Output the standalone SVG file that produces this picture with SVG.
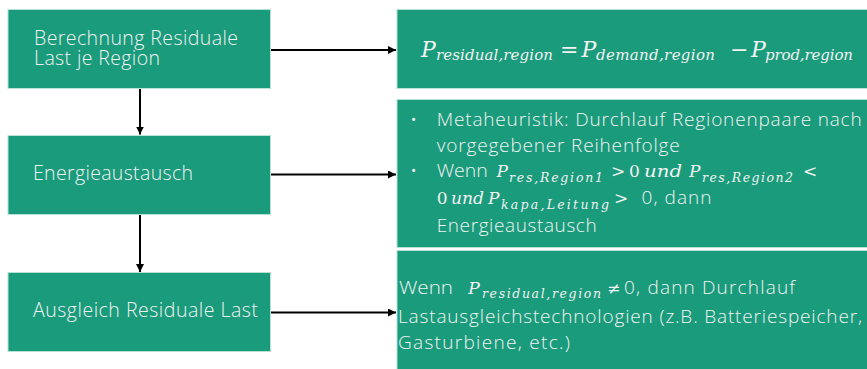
<svg xmlns="http://www.w3.org/2000/svg" width="867" height="369" viewBox="0 0 867 369">
<style>
.box{fill:#1A9B7C;stroke:#b9e2d7;stroke-width:1}
.t{font-family:"Open Sans","Noto Sans",sans-serif;font-weight:300;fill:#f2f2f2}
.tl{font-size:19.5px}
.tr{font-size:19px}
.m{font-family:"DejaVu Serif","Liberation Serif",serif;font-style:italic;fill:#f2f2f2}
.mu{font-family:"DejaVu Serif","Liberation Serif",serif;fill:#f2f2f2}
.conn{stroke:#000;stroke-width:2;fill:none}
</style>
<defs>
<marker id="ah" markerUnits="userSpaceOnUse" markerWidth="9" markerHeight="9" refX="8" refY="4" orient="auto">
<path d="M0,0 L8,4 L0,8 z" fill="#000"/>
</marker>
</defs>

<g id="connectors">
<line class="conn" x1="271" y1="50" x2="396" y2="50" marker-end="url(#ah)"/>
<line class="conn" x1="271" y1="174.5" x2="396" y2="174.5" marker-end="url(#ah)"/>
<line class="conn" x1="271" y1="312.5" x2="396" y2="312.5" marker-end="url(#ah)"/>
<line class="conn" x1="140" y1="89" x2="140" y2="134.5" marker-end="url(#ah)"/>
<line class="conn" x1="140" y1="214.5" x2="140" y2="272" marker-end="url(#ah)"/>
</g>

<g id="node-berechnung">
<rect class="box" x="8" y="9.5" width="262.5" height="79"/>
<text class="t tl" x="34" y="44.5" textLength="204">Berechnung Residuale</text>
<text class="t tl" x="34" y="64.5" textLength="126">Last je Region</text>
</g>

<g id="node-energieaustausch">
<rect class="box" x="8" y="135.5" width="262.5" height="79"/>
<text class="t tl" x="33" y="180" textLength="160">Energieaustausch</text>
</g>

<g id="node-ausgleich">
<rect class="box" x="8" y="272.5" width="262.5" height="79"/>
<text class="t tl" x="33" y="317" textLength="225">Ausgleich Residuale Last</text>
</g>

<g id="node-formel">
<rect class="box" x="397" y="9.5" width="471" height="79"/>
<text class="m" x="421" y="56.7" font-size="22">P</text>
<text class="m" x="436" y="60" font-size="15" textLength="117">residual,region</text>
<text class="mu" x="560" y="56.7" font-size="22" textLength="15">=</text>
<text class="m" x="581.5" y="56.7" font-size="22">P</text>
<text class="m" x="596" y="60" font-size="15" textLength="119">demand,region</text>
<text class="mu" x="730" y="56.7" font-size="22" textLength="14">−</text>
<text class="m" x="751" y="56.7" font-size="22">P</text>
<text class="m" x="765" y="60" font-size="15" textLength="88">prod,region</text>
</g>

<g id="node-metaheuristik">
<rect class="box" x="397" y="99.5" width="471" height="148"/>
<text class="t tr" x="410" y="126">•</text>
<text class="t tr" x="436.7" y="126" textLength="425">Metaheuristik: Durchlauf Regionenpaare nach</text>
<text class="t tr" x="436.7" y="151.5" textLength="243">vorgegebener Reihenfolge</text>
<text class="t tr" x="410" y="177">•</text>
<text class="t tr" x="436.7" y="177" textLength="51" lengthAdjust="spacingAndGlyphs">Wenn</text>
<text class="m" x="496.5" y="177" font-size="17">P</text>
<text class="m" x="509" y="181.5" font-size="12.5" textLength="94">res,Region1</text>
<text class="mu" x="611" y="177" font-size="17" textLength="13">&gt;</text>
<text class="mu" x="629" y="177" font-size="17">0</text>
<text class="m" x="644" y="177" font-size="17" textLength="38" lengthAdjust="spacingAndGlyphs">und</text>
<text class="m" x="689" y="177" font-size="17">P</text>
<text class="m" x="702" y="181.5" font-size="12.5" textLength="91">res,Region2</text>
<text class="mu" x="803" y="177" font-size="17" textLength="13">&lt;</text>
<text class="mu" x="436.7" y="204" font-size="17">0</text>
<text class="m" x="451" y="204" font-size="17" textLength="33" lengthAdjust="spacingAndGlyphs">und</text>
<text class="m" x="488" y="204" font-size="17">P</text>
<text class="m" x="501" y="209" font-size="12.5" textLength="108">kapa,Leitung</text>
<text class="mu" x="614" y="204" font-size="17" textLength="13">&gt;</text>
<text class="t tr" x="641.5" y="204" textLength="70">0, dann</text>
<text class="t tr" x="436.7" y="232" textLength="160">Energieaustausch</text>
</g>

<g id="node-ausgleichstechnologien">
<rect class="box" x="397" y="250.5" width="471" height="120"/>
<text class="t tr" x="399" y="294" textLength="54" lengthAdjust="spacingAndGlyphs">Wenn</text>
<text class="m" x="468" y="294" font-size="17.5">P</text>
<text class="m" x="482" y="298" font-size="12.5" textLength="119">residual,region</text>
<text class="mu" x="607" y="294" font-size="16" textLength="10">≠</text>
<text class="t tr" x="624" y="294" textLength="171">0, dann Durchlauf</text>
<text class="t tr" x="398" y="322.5" textLength="464">Lastausgleichstechnologien (z.B. Batteriespeicher,</text>
<text class="t tr" x="398" y="349" textLength="172">Gasturbiene, etc.)</text>
</g>
</svg>
